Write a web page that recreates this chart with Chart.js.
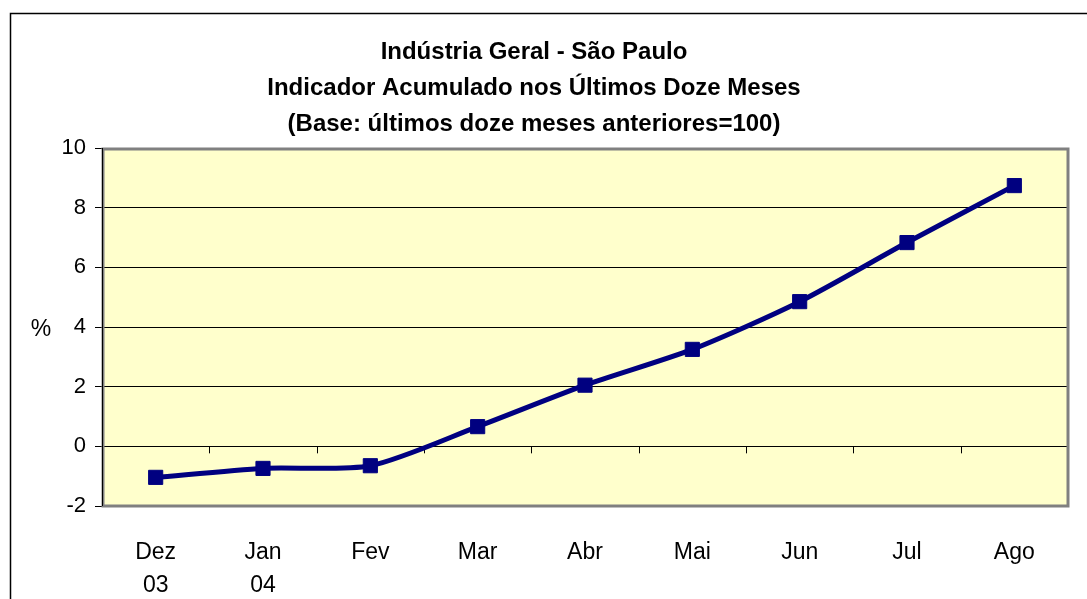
<!DOCTYPE html>
<html>
<head>
<meta charset="utf-8">
<script src="https://cdn.jsdelivr.net/npm/chart.js@4/dist/chart.umd.min.js"></script>
<style>
  html, body { margin: 0; padding: 0; background: #fff; }
  #wrap { width: 1087px; height: 599px; position: relative; }
</style>
</head>
<body>
<div id="wrap"><canvas id="chart" width="1087" height="599"></canvas></div>
<script>
  // data
  var months = [['Dez', '03'], ['Jan', '04'], 'Fev', 'Mar', 'Abr', 'Mai', 'Jun', 'Jul', 'Ago'];
  var indicador = [-1.04, -0.74, -0.65, 0.66, 2.05, 3.25, 4.85, 6.83, 8.74];
  var titleLines = [
    'Indústria Geral - São Paulo',
    'Indicador Acumulado nos Últimos Doze Meses',
    '(Base: últimos doze meses anteriores=100)'
  ];
  var yMin = -2, yMax = 10, yStep = 2;

  var FONT = 'Arial, "Liberation Sans", sans-serif';

  var framePlugin = {
    id: 'frame',
    beforeDraw: function (chart) {
      var ctx = chart.ctx, a = chart.chartArea;
      ctx.save();
      // outer chart frame
      ctx.strokeStyle = '#000';
      ctx.lineWidth = 1.5;
      ctx.beginPath();
      ctx.moveTo(10.5, 700);
      ctx.lineTo(10.5, 13.5);
      ctx.lineTo(1100, 13.5);
      ctx.stroke();
      // plot background
      ctx.fillStyle = '#FFFFCC';
      ctx.fillRect(a.left, a.top, a.right - a.left, a.bottom - a.top);
      ctx.restore();
    },
    beforeDatasetsDraw: function (chart) {
      var ctx = chart.ctx, a = chart.chartArea;
      var xs = chart.scales.x, ys = chart.scales.y;
      var y0 = ys.getPixelForValue(0);
      var n = chart.data.labels.length;
      ctx.save();
      // category tick marks hanging from the zero line
      ctx.strokeStyle = '#000';
      ctx.lineWidth = 1;
      ctx.beginPath();
      for (var i = 1; i < n; i++) {
        var x = Math.round((xs.getPixelForValue(i - 1) + xs.getPixelForValue(i)) / 2) + 0.5;
        ctx.moveTo(x, y0);
        ctx.lineTo(x, y0 + 7);
      }
      ctx.stroke();
      // grey plot border
      ctx.strokeStyle = '#808080';
      ctx.lineWidth = 3;
      ctx.strokeRect(a.left + 1, a.top + 1, a.right - a.left - 1, a.bottom - a.top - 1);
      // black value axis line
      ctx.strokeStyle = '#000';
      ctx.lineWidth = 1;
      ctx.beginPath();
      ctx.moveTo(a.left + 0.5, a.top);
      ctx.lineTo(a.left + 0.5, a.bottom);
      ctx.stroke();
      // "%" axis caption
      ctx.fillStyle = '#000';
      ctx.font = '23px ' + FONT;
      ctx.textAlign = 'center';
      ctx.textBaseline = 'middle';
      ctx.fillText('%', 41, (a.top + a.bottom) / 2 + 3);
      ctx.restore();
    }
  };

  new Chart(document.getElementById('chart'), {
    type: 'line',
    data: {
      labels: months,
      datasets: [{
        data: indicador,
        borderColor: '#000080',
        backgroundColor: '#000080',
        borderWidth: 5,
        tension: 0.25,
        pointStyle: 'rect',
        pointRadius: 10,
        pointHoverRadius: 10,
        pointBorderWidth: 1,
        fill: false
      }]
    },
    options: {
      responsive: false,
      animation: false,
      layout: { padding: { left: 0, right: 19, top: 0, bottom: 0 } },
      plugins: {
        legend: { display: false },
        tooltip: { enabled: false },
        title: {
          display: true,
          text: titleLines,
          color: '#000',
          font: { family: FONT, size: 24, weight: 'bold', lineHeight: 1.5 },
          padding: { top: 34, bottom: 6 }
        }
      },
      scales: {
        x: {
          type: 'category',
          offset: true,
          grid: { display: false, drawTicks: false },
          border: { display: false },
          ticks: {
            color: '#000',
            font: { family: FONT, size: 23, lineHeight: 1.43 },
            padding: 30,
            maxRotation: 0,
            autoSkip: false
          },
          afterFit: function (s) { s.height = 93; }
        },
        y: {
          min: yMin,
          max: yMax,
          grid: {
            color: '#000',
            lineWidth: 1,
            tickLength: 7,
            drawTicks: true
          },
          border: { display: false },
          ticks: {
            stepSize: yStep,
            color: '#000',
            font: { family: FONT, size: 22 },
            padding: 9
          },
          afterFit: function (s) { s.width = 102; }
        }
      }
    },
    plugins: [framePlugin]
  });
</script>
</body>
</html>
